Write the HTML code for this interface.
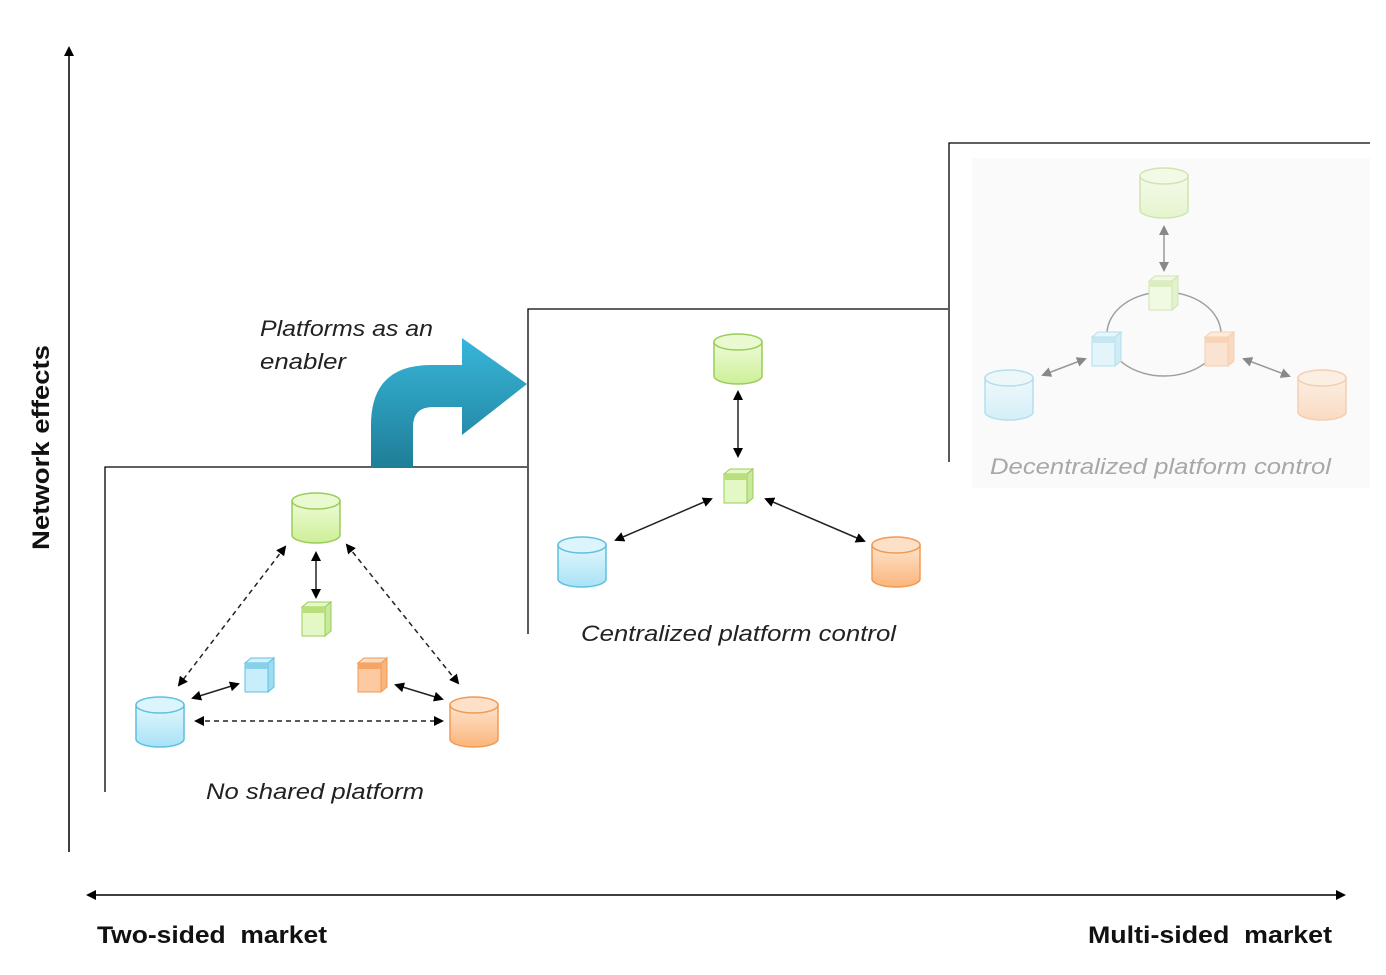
<!DOCTYPE html>
<html><head><meta charset="utf-8"><style>
html,body{margin:0;padding:0;background:#fff;}
svg{display:block;}
text{font-family:"Liberation Sans",sans-serif;}
</style></head><body>
<svg width="1386" height="975" viewBox="0 0 1386 975" xmlns="http://www.w3.org/2000/svg">
<defs>
<marker id="ah" markerWidth="10" markerHeight="10" refX="8" refY="5" orient="auto-start-reverse" markerUnits="userSpaceOnUse"><path d="M0,0 L10,5 L0,10 Z" fill="#000"/></marker>
<linearGradient id="bg" x1="0" y1="0" x2="0" y2="1"><stop offset="0" stop-color="#38b6da"/><stop offset="1" stop-color="#1f7e98"/></linearGradient>
<linearGradient id="gG" x1="0" y1="0" x2="0" y2="1"><stop offset="0" stop-color="#eefbd6"/><stop offset="1" stop-color="#cdef98"/></linearGradient>
<linearGradient id="gB" x1="0" y1="0" x2="0" y2="1"><stop offset="0" stop-color="#e2f7fd"/><stop offset="1" stop-color="#a8e2f6"/></linearGradient>
<linearGradient id="gO" x1="0" y1="0" x2="0" y2="1"><stop offset="0" stop-color="#fee3cc"/><stop offset="1" stop-color="#fbb57c"/></linearGradient>
<g id="cylG"><path d="M-24,-17 L-24,17 A24,8 0 0 0 24,17 L24,-17 Z" fill="url(#gG)" stroke="#9acc5a" stroke-width="1.5"/><ellipse cx="0" cy="-17" rx="24" ry="8" fill="#eafad0" stroke="#9acc5a" stroke-width="1.5"/></g>
<g id="cylB"><path d="M-24,-17 L-24,17 A24,8 0 0 0 24,17 L24,-17 Z" fill="url(#gB)" stroke="#5fbfdf" stroke-width="1.5"/><ellipse cx="0" cy="-17" rx="24" ry="8" fill="#dcf4fc" stroke="#5fbfdf" stroke-width="1.5"/></g>
<g id="cylO"><path d="M-24,-17 L-24,17 A24,8 0 0 0 24,17 L24,-17 Z" fill="url(#gO)" stroke="#f09a55" stroke-width="1.5"/><ellipse cx="0" cy="-17" rx="24" ry="8" fill="#fde0c8" stroke="#f09a55" stroke-width="1.5"/></g>
<g id="srvG"><path d="M-14,-12 L-8,-17 L15,-17 L9,-12 Z" fill="#e6f7c8" stroke="#9acc5a"/><path d="M9,-12 L15,-17 L15,12 L9,17 Z" fill="#c7e99a" stroke="#9acc5a"/><rect x="-14" y="-12" width="23" height="29" fill="#e4f8c6" stroke="#9acc5a"/><rect x="-14" y="-12" width="23" height="6" fill="#b9e07c"/></g>
<g id="srvB"><path d="M-14,-12 L-8,-17 L15,-17 L9,-12 Z" fill="#d4f1fb" stroke="#5fbfdf"/><path d="M9,-12 L15,-17 L15,12 L9,17 Z" fill="#9edcf2" stroke="#5fbfdf"/><rect x="-14" y="-12" width="23" height="29" fill="#c9eefb" stroke="#5fbfdf"/><rect x="-14" y="-12" width="23" height="6" fill="#86d0ec"/></g>
<g id="srvO"><path d="M-14,-12 L-8,-17 L15,-17 L9,-12 Z" fill="#fddcc0" stroke="#f09a55"/><path d="M9,-12 L15,-17 L15,12 L9,17 Z" fill="#f9b47a" stroke="#f09a55"/><rect x="-14" y="-12" width="23" height="29" fill="#fcc9a0" stroke="#f09a55"/><rect x="-14" y="-12" width="23" height="6" fill="#f7a566"/></g>
</defs>

<line x1="69" y1="852" x2="69" y2="48" stroke="#000" stroke-width="1.5" marker-end="url(#ah)"/>
<line x1="88" y1="895" x2="1344" y2="895" stroke="#000" stroke-width="1.5" marker-start="url(#ah)" marker-end="url(#ah)"/>
<text x="97" y="943" font-size="24" font-weight="bold" fill="#111" textLength="230" lengthAdjust="spacingAndGlyphs">Two-sided&#160; market</text>
<text x="1088" y="943" font-size="24" font-weight="bold" fill="#111" textLength="244" lengthAdjust="spacingAndGlyphs">Multi-sided&#160; market</text>
<text transform="translate(49,550) rotate(-90)" font-size="24" font-weight="bold" fill="#111" textLength="205" lengthAdjust="spacingAndGlyphs">Network effects</text>

<rect x="972" y="158" width="398" height="330" fill="#fafafa"/>

<path d="M105,792 L105,467 L527,467" fill="none" stroke="#000" stroke-width="1.3"/>
<path d="M528,634 L528,309 L948,309" fill="none" stroke="#000" stroke-width="1.3"/>
<path d="M949,462 L949,143 L1370,143" fill="none" stroke="#000" stroke-width="1.3"/>

<path d="M371,467 L371,425 Q371,365 431,365 L462,365 L462,338 L527,384 L462,435 L462,407 L433,407 Q413,407 413,427 L413,467 Z" fill="url(#bg)"/>
<text x="260" y="336" font-size="22" font-style="italic" fill="#222" textLength="173" lengthAdjust="spacingAndGlyphs">Platforms as an</text>
<text x="260" y="369" font-size="22" font-style="italic" fill="#222" textLength="86" lengthAdjust="spacingAndGlyphs">enabler</text>

<g stroke="#222" stroke-width="1.5" fill="none">
<line x1="285" y1="547" x2="179" y2="685" stroke-dasharray="5,4" marker-start="url(#ah)" marker-end="url(#ah)"/>
<line x1="347" y1="545" x2="458" y2="683" stroke-dasharray="5,4" marker-start="url(#ah)" marker-end="url(#ah)"/>
<line x1="196" y1="721" x2="442" y2="721" stroke-dasharray="5,4" marker-start="url(#ah)" marker-end="url(#ah)"/>
<line x1="316" y1="553" x2="316" y2="597" marker-start="url(#ah)" marker-end="url(#ah)"/>
<line x1="193" y1="698" x2="238" y2="684" marker-start="url(#ah)" marker-end="url(#ah)"/>
<line x1="396" y1="685" x2="442" y2="699" marker-start="url(#ah)" marker-end="url(#ah)"/>
</g>
<use href="#cylG" x="316" y="518"/>
<use href="#cylB" x="160" y="722"/>
<use href="#cylO" x="474" y="722"/>
<use href="#srvG" x="316" y="619"/>
<use href="#srvB" x="259" y="675"/>
<use href="#srvO" x="372" y="675"/>
<text x="206" y="799" font-size="22" font-style="italic" fill="#222" textLength="218" lengthAdjust="spacingAndGlyphs">No shared platform</text>

<g stroke="#222" stroke-width="1.5" fill="none">
<line x1="738" y1="392" x2="738" y2="456" marker-start="url(#ah)" marker-end="url(#ah)"/>
<line x1="616" y1="540" x2="711" y2="499" marker-start="url(#ah)" marker-end="url(#ah)"/>
<line x1="766" y1="499" x2="864" y2="541" marker-start="url(#ah)" marker-end="url(#ah)"/>
</g>
<use href="#cylG" x="738" y="359"/>
<use href="#cylB" x="582" y="562"/>
<use href="#cylO" x="896" y="562"/>
<use href="#srvG" x="738" y="486"/>
<text x="581" y="641" font-size="22" font-style="italic" fill="#222" textLength="315" lengthAdjust="spacingAndGlyphs">Centralized platform control</text>

<g opacity="0.45">
<ellipse cx="1164" cy="334" rx="57" ry="42" fill="none" stroke="#333" stroke-width="1.5"/>
<g stroke="#222" stroke-width="1.5" fill="none">
<line x1="1164" y1="227" x2="1164" y2="270" marker-start="url(#ah)" marker-end="url(#ah)"/>
<line x1="1043" y1="375" x2="1085" y2="359" marker-start="url(#ah)" marker-end="url(#ah)"/>
<line x1="1244" y1="359" x2="1289" y2="376" marker-start="url(#ah)" marker-end="url(#ah)"/>
</g>
<use href="#cylG" x="1164" y="193"/>
<use href="#cylB" x="1009" y="395"/>
<use href="#cylO" x="1322" y="395"/>
<use href="#srvG" x="1163" y="293"/>
<use href="#srvB" x="1106" y="349"/>
<use href="#srvO" x="1219" y="349"/>
</g>
<text x="990" y="474" font-size="22" font-style="italic" fill="#a8a8a8" textLength="341" lengthAdjust="spacingAndGlyphs">Decentralized platform control</text>
</svg>
</body></html>
